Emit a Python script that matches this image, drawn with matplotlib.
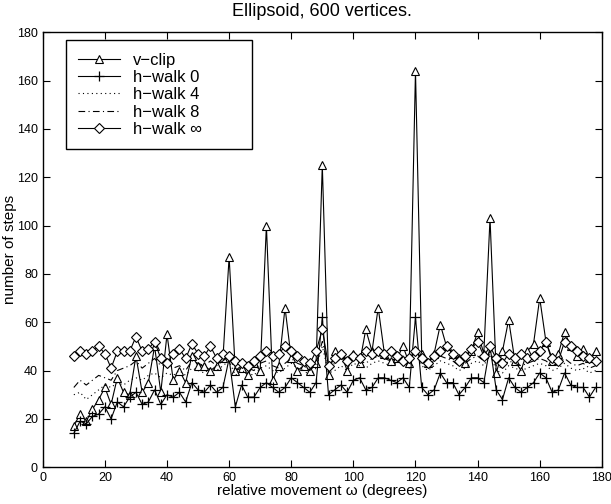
import numpy as np
import matplotlib
matplotlib.use("Agg")
import matplotlib.pyplot as plt

plt.rcParams['font.family'] = ['Liberation Sans', 'DejaVu Sans']

angles = list(range(10, 180, 2))

vclip = [17, 22, 19, 24, 28, 33, 26, 37, 31, 30, 46, 31, 35, 50, 31, 55, 36, 40, 35, 46,
         42, 42, 40, 42, 45, 87, 40, 41, 38, 43, 40, 100, 36, 42, 66, 45, 40, 42, 40, 43,
         125, 38, 48, 47, 40, 47, 43, 57, 48, 66, 47, 44, 45, 50, 43, 164, 47, 43, 47, 59,
         50, 47, 45, 43, 48, 56, 47, 103, 39, 48, 61, 44, 40, 48, 51, 70, 52, 44, 47, 56,
         50, 46, 49, 45, 48]

hwalk0 = [14, 19, 18, 21, 22, 25, 20, 27, 25, 29, 31, 26, 27, 32, 26, 30, 29, 31, 27, 35,
          32, 31, 34, 31, 33, 45, 25, 34, 29, 29, 33, 35, 33, 31, 33, 37, 35, 33, 31, 35,
          62, 30, 32, 34, 31, 36, 37, 32, 33, 37, 37, 36, 35, 37, 33, 62, 33, 30, 32, 39,
          35, 35, 30, 33, 37, 37, 35, 50, 32, 28, 37, 33, 31, 33, 35, 39, 37, 31, 32, 39,
          34, 33, 33, 29, 33]

hwalk4 = [30, 31, 28, 30, 32, 34, 33, 35, 34, 36, 37, 36, 38, 39, 37, 39, 38, 40, 38, 41,
          40, 39, 41, 40, 42, 44, 38, 40, 39, 38, 41, 42, 40, 39, 41, 43, 41, 40, 38, 41,
          50, 39, 40, 42, 40, 43, 42, 41, 43, 44, 43, 42, 43, 44, 41, 50, 42, 40, 42, 44,
          43, 42, 40, 41, 43, 44, 42, 47, 40, 39, 42, 41, 40, 41, 42, 43, 42, 40, 41, 43,
          41, 40, 41, 39, 40]

hwalk8 = [33, 36, 34, 36, 38, 37, 36, 40, 41, 42, 44, 41, 43, 45, 42, 43, 41, 42, 40, 44,
          43, 42, 44, 42, 44, 46, 40, 42, 41, 40, 43, 44, 42, 41, 43, 45, 43, 42, 40, 43,
          52, 41, 43, 45, 42, 45, 44, 43, 45, 46, 45, 44, 45, 46, 43, 50, 44, 42, 44, 46,
          45, 44, 42, 43, 45, 46, 44, 48, 42, 41, 44, 43, 42, 43, 44, 45, 44, 42, 43, 45,
          43, 42, 43, 41, 42]

hwalkinf = [46, 48, 47, 48, 50, 47, 41, 48, 48, 48, 54, 48, 49, 52, 45, 43, 47, 49, 45, 51,
            47, 46, 50, 45, 47, 46, 44, 43, 42, 44, 46, 48, 46, 47, 50, 48, 46, 44, 43, 48,
            57, 42, 45, 47, 44, 46, 45, 48, 47, 48, 47, 48, 46, 44, 45, 48, 45, 43, 46, 48,
            50, 47, 44, 46, 49, 52, 46, 50, 45, 43, 47, 45, 47, 45, 46, 48, 52, 45, 44, 52,
            50, 48, 46, 45, 44]

xticks = [0, 20, 40, 60, 80, 100, 120, 140, 160, 180]
yticks = [0, 20, 40, 60, 80, 100, 120, 140, 160, 180]

fig = plt.figure(figsize=(6.11, 5.04), dpi=100)
ax = fig.add_axes([0.070, 0.073, 0.915, 0.863])

lw = 0.8
ax.plot(angles, vclip, color='black', lw=lw, marker='^', ms=6, mfc='white', mec='black', mew=0.8, label='v\u2212clip')
ax.plot(angles, hwalk0, color='black', lw=lw, marker='+', ms=7, mew=0.9, label='h\u2212walk 0')
ax.plot(angles, hwalk4, color='black', lw=lw, ls=(0, (1, 3)), label='h\u2212walk 4')
ax.plot(angles, hwalk8, color='black', lw=lw, ls=(0, (6, 3, 1, 3)), label='h\u2212walk 8')
ax.plot(angles, hwalkinf, color='black', lw=lw, marker='D', ms=5, mfc='white', mec='black', mew=0.8, label='h\u2212walk \u221e')

ax.set_xlim(0, 180)
ax.set_ylim(0, 180)
ax.set_xticks(xticks)
ax.set_yticks(yticks)
ax.tick_params(direction='in', length=5, labelsize=9, top=True, right=True, width=0.8)
for s in ax.spines.values():
    s.set_linewidth(1.0)

ax.set_title('Ellipsoid, 600 vertices.', fontsize=13, pad=12)
ax.set_xlabel('relative movement \u03c9 (degrees)', fontsize=11, labelpad=0)
ax.set_ylabel('number of steps', fontsize=11, labelpad=0)

leg = ax.legend(loc='upper left', bbox_to_anchor=(0.041, 0.982, 0.333, 0.0), mode='expand',
                fontsize=12, frameon=True, fancybox=False,
                edgecolor='black', framealpha=1, handlelength=2.5, handletextpad=0.8,
                labelspacing=0.14, borderpad=0.75, borderaxespad=0)
leg.get_frame().set_linewidth(1.0)

fig.savefig('out.png', dpi=100)
